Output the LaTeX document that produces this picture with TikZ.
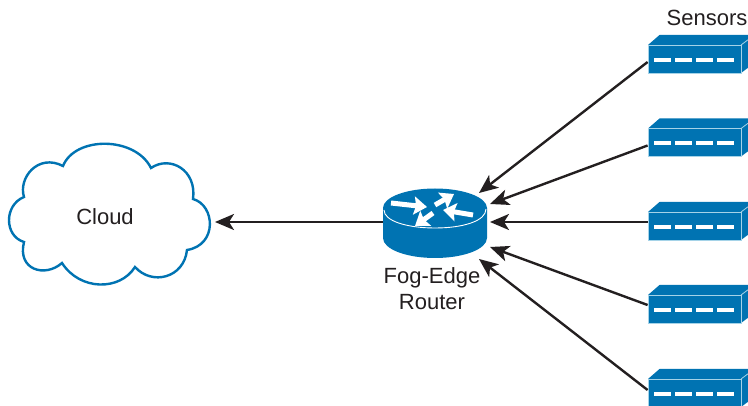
\documentclass[tikz,border=0pt]{standalone}
\usepackage{xcolor}
\usepackage{fontspec}
\setmainfont{Liberation Sans}
\usepackage{tikz}
\usetikzlibrary{arrows.meta}
\definecolor{deviceblue}{HTML}{0073B2}
\definecolor{edgeblue}{HTML}{A5D3E8}
\definecolor{inkgray}{HTML}{231F20}
\tikzset{
label text/.style = { text = inkgray, align = center, font = \fontsize{22}{26}\selectfont, inner sep = 0pt },
link/.style = { draw = inkgray, line width = 2.4pt, -{Stealth[length = 19pt, width = 16pt, inset = 5pt]} },
router arrow/.style = { draw = white, line width = 5pt, -{Stealth[length = 13pt, width = 18pt, inset = 2pt]} },
}
\tikzset{
pics/sensor/.style = {
        code = {
        \path[fill = deviceblue] (-46.5, -14) -- (-35, -24) -- (60, -24) -- (46.5, -14) -- cycle;
        \path[fill = deviceblue] (46.5, -14) -- (60, -24) -- (60, 4) -- (46.5, 14) -- cycle;
        \draw[edgeblue, line width = 0.8pt] (46.5, -14) -- (60, -24);
        \node[draw = edgeblue, fill = deviceblue, line width = 0.8pt, minimum width = 93pt, minimum height = 28pt, inner sep = 0pt] (-front) at (0, 0) {};
        \path[fill = white] (-40.5, -1) rectangle (-23.5, 3);
        \path[fill = white] (-19.5, -1) rectangle (-2.5, 3);
        \path[fill = white] (1.5, -1) rectangle (18.5, 3);
        \path[fill = white] (22.5, -1) rectangle (39.5, 3);
        }
    },
pics/router/.style = {
        code = {
        \path[fill = deviceblue] (-52, -14) -- (-52, 16) .. controls (-52, 27) and (-29, 36) .. (0, 36) .. controls (29, 36) and (52, 27) .. (52, 16) -- (52, -14) -- cycle;
        \path[fill = deviceblue] (0, -14) ellipse [x radius = 52, y radius = 19.5];
        \path[draw = white, line width = 0.9pt] (-51, -12) .. controls (-51, -1) and (-28, 6) .. (0, 6) .. controls (28, 6) and (51, -1) .. (51, -13);
        \draw[router arrow] (-44, -19) -- (-8, -15);
        \draw[router arrow] (0, -17) -- (19, -28);
        \draw[router arrow] (38, -7) -- (8, -12);
        \draw[router arrow] (-2, -9) -- (-20, 4);
        \node[minimum width = 104pt, minimum height = 1pt, inner sep = 0pt] (-body) at (0, 0) {};
        \coordinate (-in1) at (44, -29);
        \coordinate (-in2) at (55, -18);
        \coordinate (-in3) at (55, 0);
        \coordinate (-in4) at (55, 25);
        \coordinate (-in5) at (44, 37);
        }
    }
}
\begin{document}
\begin{tikzpicture}[x = 1pt, y = -1pt]
    \clip (0, 0) rectangle (748, 406);
    % cloud outline
    \path[draw = deviceblue, line width = 2.4pt, fill = white] (24, 197)
        .. controls (18, 178) and (38, 153) .. (63, 166)
        .. controls (75, 136) and (135, 136) .. (151, 168)
        .. controls (170, 155) and (197, 170) .. (193, 199)
        .. controls (215, 205) and (218, 245) .. (187, 250)
        .. controls (184, 278) and (152, 286) .. (135, 267)
        .. controls (120, 291) and (80, 291) .. (62, 263)
        .. controls (45, 278) and (17, 270) .. (24, 242)
        .. controls (4, 236) and (4, 205) .. (24, 197) -- cycle;
    \node[label text] (cloud) at (105, 217) {Cloud};
    \coordinate (cloud edge) at (215, 222);
    \draw (435, 222) pic (router) {router};
    \node[label text] (router label) at (432, 289) {Fog-Edge\\Router};
    \node[label text] (sensors label) at (707, 18) {Sensors};
    \draw (694.5, 59) pic (sensor1) {sensor};
    \draw (694.5, 142.5) pic (sensor2) {sensor};
    \draw (694.5, 226) pic (sensor3) {sensor};
    \draw (694.5, 309) pic (sensor4) {sensor};
    \draw (694.5, 393) pic (sensor5) {sensor};
    \draw[link] ([yshift = -3pt]sensor1-front.west) -- (router-in1);
    \draw[link] ([yshift = -3pt]sensor2-front.west) -- (router-in2);
    \draw[link] ([yshift = 4pt]sensor3-front.west) -- (router-in3);
    \draw[link] ([yshift = 4pt]sensor4-front.west) -- (router-in4);
    \draw[link] ([yshift = 3pt]sensor5-front.west) -- (router-in5);
    \draw[link] (router-body.west) -- (cloud edge);
  \end{tikzpicture}
\end{document}
